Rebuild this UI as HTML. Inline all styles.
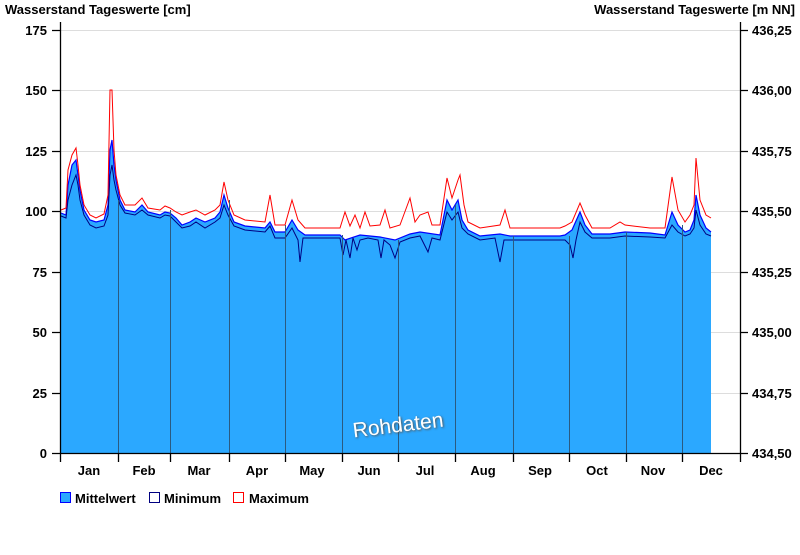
<!DOCTYPE html>
<html><head><meta charset="utf-8"><style>
body{margin:0;background:#fff;width:800px;height:550px;overflow:hidden}
svg{font-family:"Liberation Sans",Arial,sans-serif;font-weight:bold}
</style></head><body>
<svg width="800" height="550" viewBox="0 0 800 550">
<text x="5" y="14" font-size="13">Wasserstand Tageswerte [cm]</text>
<text x="795" y="14" font-size="13" text-anchor="end">Wasserstand Tageswerte [m NN]</text>
<g stroke="#ddd" stroke-width="1">
<line x1="61" x2="740" y1="30.5" y2="30.5"/><line x1="61" x2="740" y1="90.5" y2="90.5"/><line x1="61" x2="740" y1="151.5" y2="151.5"/><line x1="61" x2="740" y1="211.5" y2="211.5"/><line x1="61" x2="740" y1="272.5" y2="272.5"/><line x1="61" x2="740" y1="332.5" y2="332.5"/><line x1="61" x2="740" y1="393.5" y2="393.5"/>
</g>
<polygon fill="#2ba8ff" points="61,453 61,213 66,215 68,185 72,165 76,160 78,175 80,190 84,210 90,220 96,222 104,220 108,205 110,150 112,140 114,165 116,180 120,200 125,210 135,212 142,205 148,212 160,215 165,212 170,213 176,218 182,225 190,222 196,218 205,222 215,218 220,212 224,195 228,208 234,222 245,226 265,228 270,222 275,232 285,232 292,220 298,230 305,235 340,235 345,240 360,235 380,237 395,240 410,234 420,232 440,235 447,200 452,210 458,200 462,220 468,230 480,236 500,234 510,236 540,236 560,236 565,235 572,230 580,212 585,225 592,234 610,234 625,232 650,233 665,235 672,212 678,225 685,232 690,230 694,220 696,195 700,215 706,228 711,232 711,453"/>
<polyline fill="none" stroke="#0000ff" stroke-width="1.2" points="61,213 66,215 68,185 72,165 76,160 78,175 80,190 84,210 90,220 96,222 104,220 108,205 110,150 112,140 114,165 116,180 120,200 125,210 135,212 142,205 148,212 160,215 165,212 170,213 176,218 182,225 190,222 196,218 205,222 215,218 220,212 224,195 228,208 234,222 245,226 265,228 270,222 275,232 285,232 292,220 298,230 305,235 340,235 345,240 360,235 380,237 395,240 410,234 420,232 440,235 447,200 452,210 458,200 462,220 468,230 480,236 500,234 510,236 540,236 560,236 565,235 572,230 580,212 585,225 592,234 610,234 625,232 650,233 665,235 672,212 678,225 685,232 690,230 694,220 696,195 700,215 706,228 711,232"/>
<polyline fill="none" stroke="#000080" stroke-width="1" points="61,216 66,218 68,200 72,185 76,175 78,185 80,200 84,215 90,225 96,228 104,226 108,215 110,175 112,165 114,180 116,190 120,205 125,213 135,215 142,210 148,215 160,218 165,215 170,216 176,222 182,228 190,226 196,222 205,228 215,222 220,218 224,205 228,215 234,226 245,230 265,232 270,226 275,238 285,238 292,228 298,240 300,262 303,238 310,238 340,238 343,255 346,240 350,258 353,238 357,250 360,240 368,238 378,240 381,258 384,240 390,245 395,258 400,242 410,238 420,236 428,252 432,238 440,240 447,212 452,220 458,212 462,228 468,234 480,240 495,238 500,262 504,240 510,240 540,240 560,240 565,240 570,245 573,258 576,240 580,222 585,232 592,238 610,238 625,236 650,237 665,238 672,225 678,232 685,236 690,234 694,228 696,210 700,225 706,234 711,236"/>
<polyline fill="none" stroke="#ff0000" stroke-width="1" points="61,210 66,208 68,170 72,155 76,148 78,165 80,185 84,205 90,215 96,218 104,214 108,195 110,90 112,90 114,150 116,175 120,195 125,205 135,205 142,198 148,208 160,210 165,206 170,208 176,212 182,215 190,212 196,210 205,215 215,210 220,205 224,182 228,200 234,215 245,220 265,222 270,195 275,225 285,225 292,200 298,220 305,228 340,228 345,212 350,226 355,215 360,228 365,212 370,226 380,225 385,210 390,228 400,225 410,198 415,222 420,215 428,212 432,225 440,225 447,178 452,198 458,180 460,175 464,205 468,222 480,228 500,225 505,210 510,228 540,228 560,228 565,226 572,222 580,203 585,215 592,228 610,228 620,222 625,225 650,228 665,228 672,177 678,210 685,222 690,215 694,205 696,158 700,200 706,215 711,218"/>
<g stroke="#2b5a80" stroke-width="1">
<line x1="118.5" x2="118.5" y1="200" y2="453"/><line x1="170.5" x2="170.5" y1="210" y2="453"/><line x1="229.5" x2="229.5" y1="200" y2="453"/><line x1="285.5" x2="285.5" y1="225" y2="453"/><line x1="342.5" x2="342.5" y1="235" y2="453"/><line x1="398.5" x2="398.5" y1="240" y2="453"/><line x1="455.5" x2="455.5" y1="205" y2="453"/><line x1="513.5" x2="513.5" y1="236" y2="453"/><line x1="569.5" x2="569.5" y1="236" y2="453"/><line x1="626.5" x2="626.5" y1="232" y2="453"/><line x1="682.5" x2="682.5" y1="225" y2="453"/>
</g>
<text x="398" y="432" font-size="21" font-weight="normal" fill="#fff" text-anchor="middle" transform="rotate(-7 398 425)" style="text-shadow:1px 1px 2px #555">Rohdaten</text>
<g stroke="#000" stroke-width="1.3" fill="none">
<line x1="60.5" x2="60.5" y1="22" y2="454"/><line x1="740.5" x2="740.5" y1="22" y2="454"/><line x1="52" x2="741" y1="453.5" y2="453.5"/>
<path d="M52 30.5H61M52 90.5H61M52 151.5H61M52 211.5H61M52 272.5H61M52 332.5H61M52 393.5H61M740 30.5H748M740 90.5H748M740 151.5H748M740 211.5H748M740 272.5H748M740 332.5H748M740 393.5H748M740 453.5H748"/>
<path d="M60.5 453V462M118.5 453V462M170.5 453V462M229.5 453V462M285.5 453V462M342.5 453V462M398.5 453V462M455.5 453V462M513.5 453V462M569.5 453V462M626.5 453V462M682.5 453V462M740.5 453V462"/>
</g>
<g font-size="13" text-anchor="end">
<text x="47" y="35">175</text><text x="47" y="95">150</text><text x="47" y="156">125</text><text x="47" y="216">100</text><text x="47" y="277">75</text><text x="47" y="337">50</text><text x="47" y="398">25</text><text x="47" y="458">0</text>
</g>
<g font-size="13">
<text x="752" y="35">436,25</text><text x="752" y="95">436,00</text><text x="752" y="156">435,75</text><text x="752" y="216">435,50</text><text x="752" y="277">435,25</text><text x="752" y="337">435,00</text><text x="752" y="398">434,75</text><text x="752" y="458">434,50</text>
</g>
<g font-size="13" text-anchor="middle">
<text x="89" y="475">Jan</text><text x="144" y="475">Feb</text><text x="199" y="475">Mar</text><text x="257" y="475">Apr</text><text x="312" y="475">May</text><text x="369" y="475">Jun</text><text x="425" y="475">Jul</text><text x="483" y="475">Aug</text><text x="540" y="475">Sep</text><text x="597" y="475">Oct</text><text x="653" y="475">Nov</text><text x="711" y="475">Dec</text>
</g>
<rect x="60.5" y="492.5" width="10" height="10" fill="#2ba8ff" stroke="#0000ff"/>
<text x="75" y="503" font-size="13">Mittelwert</text>
<rect x="149.5" y="492.5" width="10" height="10" fill="#fff" stroke="#000080"/>
<text x="164" y="503" font-size="13">Minimum</text>
<rect x="233.5" y="492.5" width="10" height="10" fill="#fff" stroke="#ff0000"/>
<text x="249" y="503" font-size="13">Maximum</text>
</svg>
</body></html>
